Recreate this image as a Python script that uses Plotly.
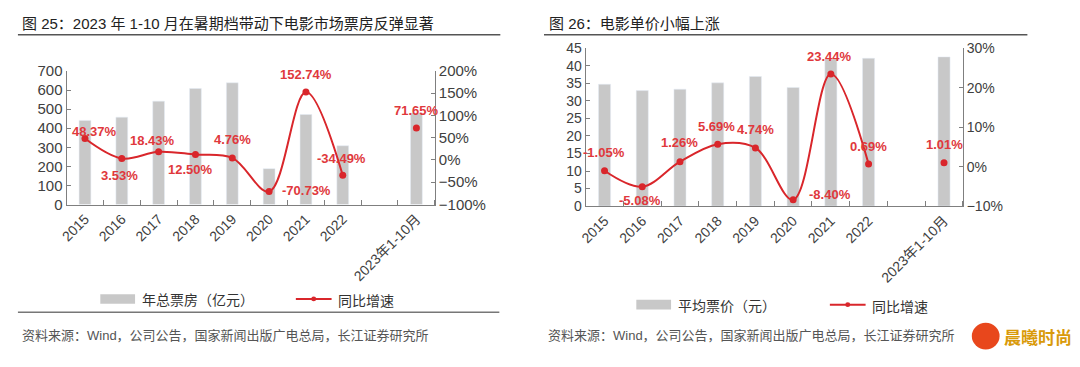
import plotly.graph_objects as go

# ---------------- data ----------------
categories = ["2015", "2016", "2017", "2018", "2019", "2020", "2021", "2022", "", "2023年1-10月"]
box_office = [441, 458, 542, 608, 638, 188, 472, 308, None, 480]          # 年总票房（亿元）
box_growth = [48.37, 3.53, 18.43, 12.50, 4.76, -70.73, 152.74, -34.49, None, 71.65]  # 同比增速 %
ticket_price = [34.7, 32.9, 33.3, 35.1, 36.9, 33.8, 41.8, 42.1, None, 42.5]  # 平均票价（元）
price_growth = [-1.05, -5.08, 1.26, 5.69, 4.74, -8.40, 23.44, 0.69, None, 1.01]  # 同比增速 %

left_title = "图 25：2023 年 1-10 月在暑期档带动下电影市场票房反弹显著"
right_title = "图 26：电影单价小幅上涨"
source_text = "资料来源：Wind，公司公告，国家新闻出版广电总局，长江证券研究所"

# label pixel offsets (style only)
left_label_shift = [(10, 7), (-2, -17), (-6, 11), (-5, -15), (0, 18), (37, 1), (0, 18), (-1, 17), None, (0, 18)]
right_label_shift = [(-1, 18), (-2, -14), (0, 19), (-1, 18), (0, 18), (37, 5), (-1, 18), (0, 17), None, (0, 18)]

# category slot index (positions on the category scale)
slots = list(range(len(categories)))

# ---------------- style ----------------
W, H = 1080, 367
FONT = "Liberation Sans, Arial, Noto Sans CJK SC, sans-serif"
RED = "#D9262B"
LABEL_RED = "#E0383C"
GRAY_BAR = "#C8C8C8"
AXIS = "#7F7F7F"
TICK_TXT = "#404040"


def fx(px):
    """window pixel x -> paper fraction"""
    return px / W


def fy(py):
    """window pixel y -> paper fraction"""
    return 1 - py / H


fig = go.Figure()

fig.add_trace(go.Bar(x=slots, y=box_office, xaxis="x", yaxis="y",
                     marker_color=GRAY_BAR, width=0.32, name="年总票房（亿元）", showlegend=False))
fig.add_trace(go.Scatter(x=slots, y=box_growth, xaxis="x", yaxis="y2", mode="lines+markers",
                         line=dict(color=RED, width=2, shape="spline", smoothing=1.0),
                         marker=dict(color=RED, size=7), connectgaps=False,
                         name="同比增速", showlegend=False))
fig.add_trace(go.Bar(x=slots, y=ticket_price, xaxis="x2", yaxis="y3",
                     marker_color=GRAY_BAR, width=0.32, name="平均票价（元）", showlegend=False))
fig.add_trace(go.Scatter(x=slots, y=price_growth, xaxis="x2", yaxis="y4", mode="lines+markers",
                         line=dict(color=RED, width=2, shape="spline", smoothing=1.0),
                         marker=dict(color=RED, size=7), connectgaps=False,
                         name="同比增速", showlegend=False))

boundaries = [i - 0.5 for i in range(len(categories) + 1)]
xcommon = dict(type="linear", range=[-0.5, len(categories) - 0.5],
               tickmode="array", tickvals=slots, ticktext=categories,
               tickangle=-45, ticks="",
               minor=dict(tickmode="array", tickvals=boundaries, ticks="inside", ticklen=5, tickcolor=AXIS),
               showline=True, linecolor=AXIS, linewidth=1,
               showgrid=False, zeroline=False,
               tickfont=dict(family=FONT, size=14, color=TICK_TXT))
ycommon = dict(ticks="inside", ticklen=4, tickcolor=AXIS, showline=True, linecolor=AXIS,
               linewidth=1, showgrid=False, zeroline=False)

fig.update_layout(
    width=W, height=H, autosize=False,
    margin=dict(l=0, r=0, t=0, b=0),
    paper_bgcolor="white", plot_bgcolor="white",
    font=dict(family=FONT, color=TICK_TXT),
    hovermode=False,
    xaxis=dict(domain=[fx(59), fx(430)], anchor="y", **xcommon),
    yaxis=dict(domain=[fy(205), fy(65)], range=[0, 700], dtick=100,
               tickfont=dict(family=FONT, size=15, color=TICK_TXT), **ycommon),
    yaxis2=dict(overlaying="y", side="right", anchor="x", range=[-100, 200], dtick=50,
                ticksuffix="%", tickfont=dict(family=FONT, size=15, color=TICK_TXT), **ycommon),
    xaxis2=dict(domain=[fx(582), fx(962)], anchor="y3", **xcommon),
    yaxis3=dict(domain=[fy(206.7), fy(41)], anchor="x2", range=[0, 45], dtick=5,
                tickfont=dict(family=FONT, size=14, color=TICK_TXT), **ycommon),
    yaxis4=dict(overlaying="y3", side="right", anchor="x2", range=[-10, 30], dtick=10,
                ticksuffix="%", tickfont=dict(family=FONT, size=14, color=TICK_TXT), **ycommon),
)

annotations = []
shapes = []

# data labels
for s, val, sh in zip(slots, box_growth, left_label_shift):
    if val is None:
        continue
    annotations.append(dict(x=s, y=val, xref="x", yref="y2", text=f"<b>{val:.2f}%</b>",
                            showarrow=False, xshift=sh[0], yshift=sh[1],
                            font=dict(family=FONT, size=13, color=LABEL_RED)))
for s, val, sh in zip(slots, price_growth, right_label_shift):
    if val is None:
        continue
    annotations.append(dict(x=s, y=val, xref="x2", yref="y4", text=f"<b>{val:.2f}%</b>",
                            showarrow=False, xshift=sh[0], yshift=sh[1],
                            font=dict(family=FONT, size=13, color=LABEL_RED)))

# titles
annotations.append(dict(x=fx(12), y=fy(15), xref="paper", yref="paper", text=left_title,
                        showarrow=False, xanchor="left", yanchor="middle",
                        font=dict(family=FONT, size=15, color="#222222")))
annotations.append(dict(x=fx(543), y=fy(15), xref="paper", yref="paper", text=right_title,
                        showarrow=False, xanchor="left", yanchor="middle",
                        font=dict(family=FONT, size=15, color="#222222")))
shapes.append(dict(type="line", xref="paper", yref="paper", x0=fx(10), x1=fx(496), y0=fy(27), y1=fy(27),
                   line=dict(color="#555555", width=1.5)))
shapes.append(dict(type="line", xref="paper", yref="paper", x0=fx(540), x1=fx(1027), y0=fy(27), y1=fy(27),
                   line=dict(color="#555555", width=1.5)))

# bottom rule & sources
shapes.append(dict(type="line", xref="paper", yref="paper", x0=fx(10), x1=fx(495), y0=fy(318), y1=fy(318),
                   line=dict(color="#777777", width=1.5)))
annotations.append(dict(x=fx(12), y=fy(342), xref="paper", yref="paper", text=source_text,
                        showarrow=False, xanchor="left", yanchor="middle",
                        font=dict(family=FONT, size=13, color="#555555")))
annotations.append(dict(x=fx(542), y=fy(342), xref="paper", yref="paper", text=source_text,
                        showarrow=False, xanchor="left", yanchor="middle",
                        font=dict(family=FONT, size=13, color="#555555")))


# manual legends
def legend(bar_x, y_bar, bar_label, line_x, y_line, line_label):
    shapes.append(dict(type="rect", xref="paper", yref="paper", x0=fx(bar_x), x1=fx(bar_x + 35),
                       y0=fy(y_bar + 5), y1=fy(y_bar - 5), line=dict(width=0), fillcolor=GRAY_BAR))
    annotations.append(dict(x=fx(bar_x + 40), y=fy(y_bar + 1), xref="paper", yref="paper", text=bar_label,
                            showarrow=False, xanchor="left", yanchor="middle",
                            font=dict(family=FONT, size=14, color="#333333")))
    shapes.append(dict(type="line", xref="paper", yref="paper", x0=fx(line_x), x1=fx(line_x + 36),
                       y0=fy(y_line), y1=fy(y_line), line=dict(color=RED, width=2)))
    shapes.append(dict(type="circle", xref="paper", yref="paper", x0=fx(line_x + 15.5), x1=fx(line_x + 20.5),
                       y0=fy(y_line + 2.5), y1=fy(y_line - 2.5), line=dict(width=0), fillcolor=RED))
    annotations.append(dict(x=fx(line_x + 40), y=fy(y_line + 2), xref="paper", yref="paper", text=line_label,
                            showarrow=False, xanchor="left", yanchor="middle",
                            font=dict(family=FONT, size=14, color="#333333")))


legend(93, 304, "年总票房（亿元）", 290, 304, "同比增速")
legend(633, 310, "平均票价（元）", 828, 310, "同比增速")

# logo mark
shapes.append(dict(type="circle", xref="paper", yref="paper", x0=fx(971), x1=fx(999),
                   y0=fy(357), y1=fy(329), line=dict(width=0), fillcolor="#E8471C"))
annotations.append(dict(x=fx(1038), y=fy(343), xref="paper", yref="paper", text="<b>晨曦时尚</b>",
                        showarrow=False, xanchor="center", yanchor="middle",
                        font=dict(family="Noto Sans CJK SC", size=17, color="#D99A0A")))

fig.update_layout(annotations=annotations, shapes=shapes)

# remove the page's default body margin so the figure fills the window exactly
fig.write_html("out.html",
               config={"displayModeBar": False, "staticPlot": True},
               post_script="document.body.style.margin='0';"
                           "document.body.style.overflow='hidden';"
                           "document.documentElement.style.overflow='hidden';")
